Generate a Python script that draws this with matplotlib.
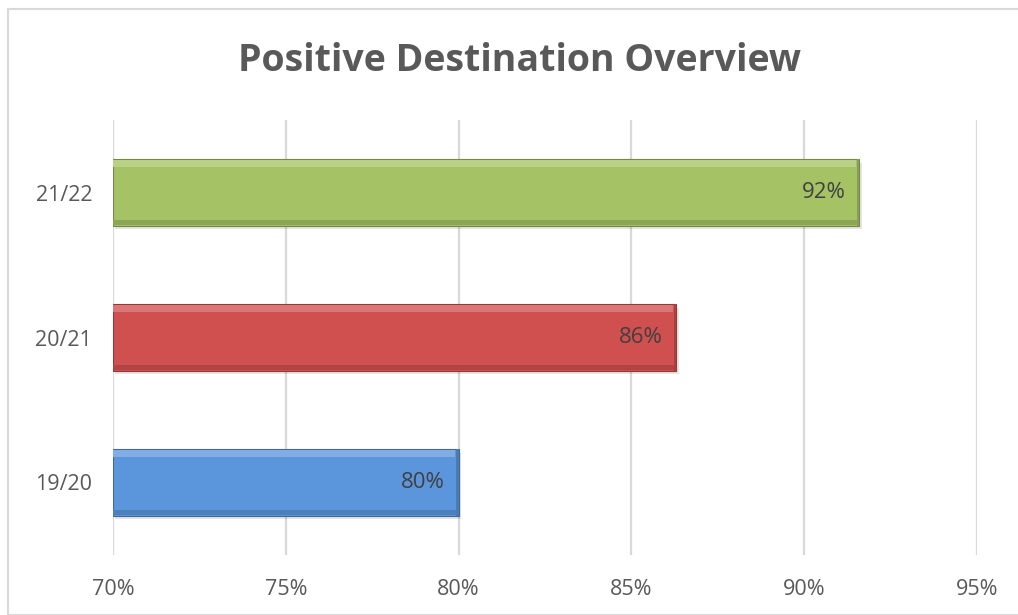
import numpy as np
import matplotlib.pyplot as plt
from matplotlib.patches import Rectangle
from matplotlib.colors import to_rgb

# data
seasons = ['19/20', '20/21', '21/22']
values = [80.0, 86.3, 91.6]
labels = ['80%', '86%', '92%']
bar_colors = ['#5B96DC', '#D0504F', '#A5C365']
xticks = [70, 75, 80, 85, 90, 95]

plt.rcParams['font.family'] = ['Open Sans', 'DejaVu Sans']
txt = '#595959'

def shade(c, f):
    r = np.array(to_rgb(c))
    if f > 0:
        return tuple(r + (1 - r) * f)
    return tuple(r * (1 + f))

fig = plt.figure(figsize=(10.18, 6.15), dpi=100)
ax = fig.add_axes([113/1018, 1-555/615, (977-113)/1018, (555-120)/615])

# chart frame
fig.patches.append(Rectangle((8/1018, 0), 1, 1-9/615, transform=fig.transFigure,
                             fill=False, edgecolor='#d9d9d9', lw=1.5, zorder=0))

y = np.arange(len(seasons))
h = 0.46
left = 70
widths = [v - left for v in values]

# shadow
ax.barh(y - 0.025, widths, left=left + 0.07, height=h, color='#000000', alpha=0.10, zorder=2)
# main bars
ax.barh(y, widths, left=left, height=h, color=bar_colors,
        edgecolor=[shade(c, -0.3) for c in bar_colors], lw=0.8, zorder=3)
# soft bevel: light top, darker bottom and right end
for yi, w, c in zip(y, widths, bar_colors):
    ax.barh(yi + h/2 - 0.03, w - 0.1, left=left, height=0.05, color=shade(c, 0.22), lw=0, zorder=4)
    ax.barh(yi - h/2 + 0.02, w, left=left, height=0.035, color=shade(c, -0.15), lw=0, zorder=4)
    ax.barh(yi, 0.08, left=left + w - 0.08, height=h, color=shade(c, -0.18), lw=0, zorder=4)

for yi, v, lab in zip(y, values, labels):
    ax.text(v - 0.4, yi, lab, ha='right', va='center', fontsize=16, color='#404040', zorder=5)

ax.set_xlim(70, 95)
ax.set_ylim(-0.5, 2.5)
ax.set_xticks(xticks)
ax.set_xticklabels([f'{t}%' for t in xticks])
ax.set_yticks(y)
ax.set_yticklabels(seasons)
ax.tick_params(axis='x', length=0, pad=17, labelsize=15.5, labelcolor=txt)
ax.tick_params(axis='y', length=0, pad=15, labelsize=15.5, labelcolor=txt)
ax.grid(axis='x', color='#d9d9d9', lw=1.6, zorder=0)
ax.set_axisbelow(True)
for s in ax.spines.values():
    s.set_visible(False)

fig.text(520/1018, 1-61/615, 'Positive Destination Overview', ha='center', va='center',
         fontsize=27, fontweight='bold', color=txt)

fig.savefig('out.png', dpi=100)
